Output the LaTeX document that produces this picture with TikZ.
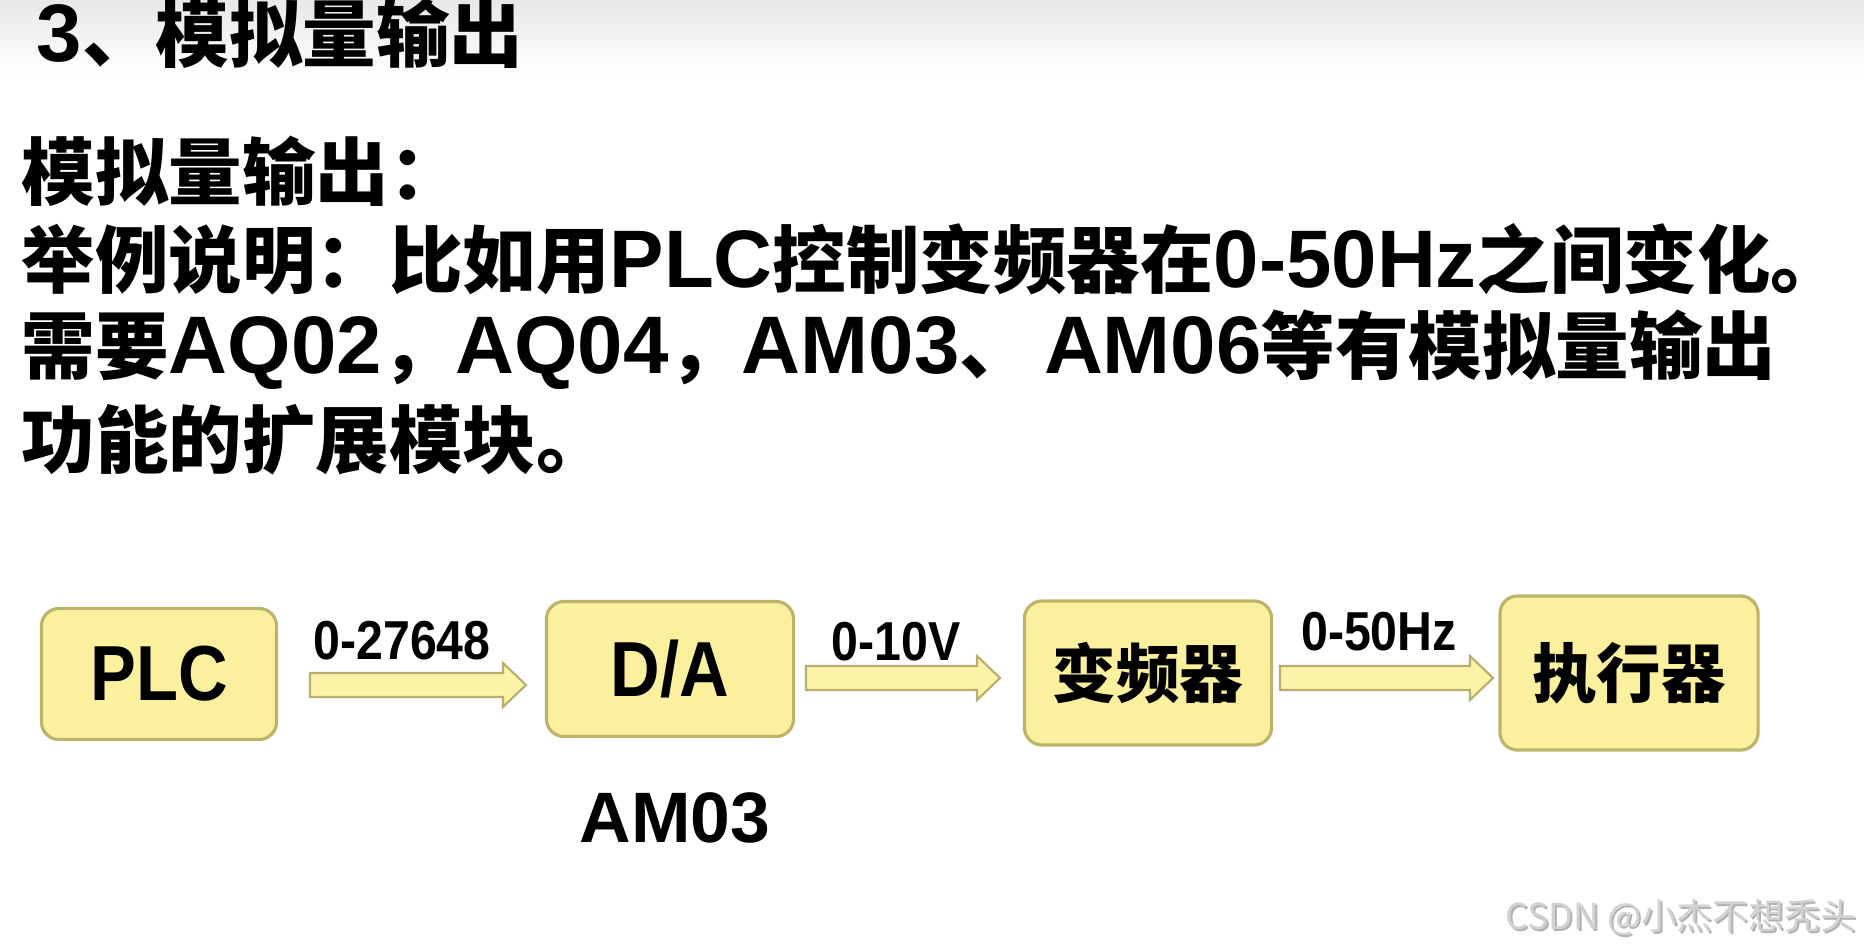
\documentclass[tikz,border=0pt]{standalone}
\usepackage{fontspec}
\setmainfont{Noto Sans CJK SC}
\newfontfamily\lt{Liberation Sans}[Scale=1.11]
\newfontfamily\nlt{Liberation Sans}[FakeStretch=0.88]
\usetikzlibrary{calc, positioning}
\definecolor{boxfill}{HTML}{FAF09E}
\definecolor{boxline}{HTML}{BDB46C}
\definecolor{arrowfill}{HTML}{FAF3A8}
\definecolor{arrowline}{HTML}{B8AF6E}
\definecolor{mark}{HTML}{D2D2D2}

% block arrow between two named points on one level
\newcommand{\flow}[2]{%
  \draw[flowarrow] ($(#1)+(0,-12)$) -- ($(#2)+(-23,-12)$) -- ($(#2)+(-23,-22)$)
    -- (#2) -- ($(#2)+(-23,22)$) -- ($(#2)+(-23,12)$) -- ($(#1)+(0,12)$) -- cycle;}

\begin{document}
\begin{tikzpicture}[x=0.01cm, y=-0.01cm,
    box/.style={draw=boxline, fill=boxfill, line width=0.9pt, rounded corners=5pt, inner sep=0pt},
    flowarrow/.style={draw=arrowline, fill=arrowfill, line width=0.6pt},
    textline/.style={anchor=west, inner sep=0pt, font=\bfseries\fontsize{20.9}{25}\selectfont},
    lbl/.style={inner sep=0pt, font=\nlt\bfseries\fontsize{15.6}{18}\selectfont}]
    \useasboundingbox (0,0) rectangle (1864,952);
    \shade[top color=gray!18, bottom color=white] (0,0) rectangle (1864,75);

    \node[textline] (title) at (36,33) {{\lt 3}、模拟量输出};
    \node[textline] (l1) at (21,171) {模拟量输出：};
    \node[textline] (l2) at (21,259) {举例说明：比如用{\lt PLC}控制变频器在{\lt 0-50Hz}之间变化。};
    \node[textline] (l3) at (21,350) {需要{\lt AQ02}，{\lt AQ04}，{\lt AM03}、\kern0.15em{\lt AM06}等有模拟量输出};
    \node[textline] (l4) at (21,440) {功能的扩展模块。};

    \node[box, minimum width=2.35cm, minimum height=1.31cm, font=\nlt\bfseries\fontsize{22.2}{24}\selectfont] (plc) at (159,674) {PLC};
    \node[box, minimum width=2.47cm, minimum height=1.35cm, font=\nlt\bfseries\fontsize{22.2}{24}\selectfont] (da) at (670,669) {D/A};
    \node[box, minimum width=2.47cm, minimum height=1.44cm, font=\bfseries\fontsize{18.1}{20}\selectfont] (vfd) at (1148,673) {变频器};
    \node[box, minimum width=2.58cm, minimum height=1.54cm, font=\bfseries\fontsize{18.3}{20}\selectfont] (act) at (1629,673) {执行器};

    \coordinate (s1) at (310,685);  \coordinate (e1) at (526,685);
    \coordinate (s2) at (806,678);  \coordinate (e2) at (1000,678);
    \coordinate (s3) at (1280,678); \coordinate (e3) at (1493,678);
    \flow{s1}{e1}
    \flow{s2}{e2}
    \flow{s3}{e3}

    \node[lbl] (n1) at (402,641) {0-27648};
    \node[lbl] (n2) at (896,642) {0-10V};
    \node[lbl] (n3) at (1379,632) {0-50Hz};
    \node[inner sep=0pt, font=\lt\bfseries\fontsize{18.3}{20}\selectfont] (am) at (675,818) {AM03};

    \node[anchor=east, inner sep=0pt, text=gray!60, font=\fontsize{10.2}{12}\selectfont] at (1859,920) {CSDN @小杰不想秃头};
    \node[anchor=east, inner sep=0pt, text=mark, font=\fontsize{10.2}{12}\selectfont] (wm) at (1857,918) {CSDN @小杰不想秃头};
\end{tikzpicture}
\end{document}
